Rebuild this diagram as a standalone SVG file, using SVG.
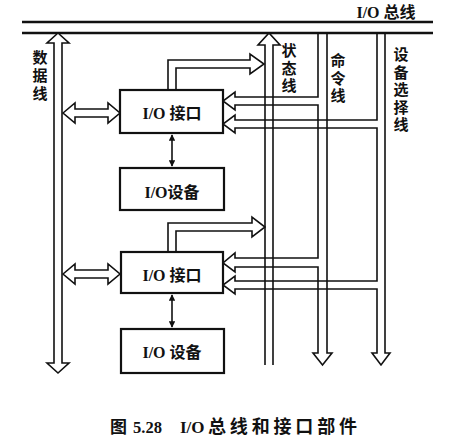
<svg xmlns="http://www.w3.org/2000/svg" width="452" height="443" viewBox="0 0 452 443">
<style>
.ln{fill:none;stroke:#111;stroke-width:1.6;stroke-linejoin:miter}
.hd{fill:#fff;stroke:#111;stroke-width:1.6;stroke-linejoin:miter}
.box{fill:#fff;stroke:#111;stroke-width:2.2}
.bus{stroke:#111;stroke-width:2.4}
.t{font-family:"Liberation Serif","Noto Sans CJK SC",serif;font-weight:bold;font-size:16px;fill:#111;text-anchor:middle}
.c{font-family:"Liberation Sans","Noto Sans CJK SC",sans-serif;font-weight:bold;font-size:15px;fill:#111;text-anchor:middle}
.cap{font-family:"Liberation Serif","Noto Sans CJK SC",serif;font-weight:bold;font-size:17px;fill:#111}
.sm{stroke:#111;stroke-width:1.6}
</style>
<defs>
<marker id="ah" viewBox="0 0 10 10" refX="9" refY="5" markerWidth="4" markerHeight="4" orient="auto-start-reverse" markerUnits="strokeWidth">
<path d="M0,0 L10,5 L0,10 Z" fill="#111"/>
</marker>
</defs>
<g id="bus">
<line class="bus" x1="22" y1="22" x2="433" y2="22"/>
<line class="bus" x1="22" y1="33" x2="433" y2="33"/>
<text class="t" x="386" y="18">I/O 总线</text>
</g>
<g id="connectors">
<path class="hd" d="M54,43 L54,363 L47,363 L58,373 L69,363 L62,363 L62,43 L69,43 L58,33 L47,43 Z"/>
<path class="ln" d="M265,365 L265,45 L258,45 L269,33 L280,45 L273,45 L273,365"/>
<path class="ln" d="M318,33 L318,97 L235,97 L235,92 L223,101 L235,110 L235,105 L318,105 L318,258 L235,258 L235,253 L223,263 L235,272 L235,267 L318,267 L318,353 L313,353 L322.5,365 L332,353 L327,353 L327,33"/>
<path class="ln" d="M377,33 L377,120 L235,120 L235,115 L223,124 L235,133 L235,128 L377,128 L377,281 L235,281 L235,276 L223,285 L235,294 L235,289 L377,289 L377,353 L372,353 L381,365 L390,353 L385,353 L385,33"/>
<path class="hd" d="M168,90 L168,60 L250,60 L250,54 L264,64 L250,74 L250,68 L176,68 L176,90"/>
<path class="hd" d="M168,252 L168,223 L252,223 L252,217 L265,227 L252,237 L252,231 L176,231 L176,252"/>
<path class="hd" d="M63,113 L75,103 L75,109 L108,109 L108,103 L120,113 L108,123 L108,117 L75,117 L75,123 Z"/>
<path class="hd" d="M63,274 L75,264 L75,270 L108,270 L108,264 L120,274 L108,284 L108,278 L75,278 L75,284 Z"/>
<line class="sm" x1="172" y1="135" x2="172" y2="166" marker-start="url(#ah)" marker-end="url(#ah)"/>
<line class="sm" x1="172" y1="295" x2="172" y2="327" marker-start="url(#ah)" marker-end="url(#ah)"/>
</g>
<g id="if1">
<rect class="box" x="120" y="90" width="103" height="43"/>
<text class="t" x="172" y="119">I/O 接口</text>
</g>
<g id="dev1">
<rect class="box" x="120" y="168" width="104" height="42"/>
<text class="t" x="172" y="198">I/O设备</text>
</g>
<g id="if2">
<rect class="box" x="121" y="252" width="102" height="41"/>
<text class="t" x="172" y="281">I/O 接口</text>
</g>
<g id="dev2">
<rect class="box" x="121" y="329" width="103" height="44"/>
<text class="t" x="172" y="358">I/O 设备</text>
</g>
<g id="labels">
<text class="c"><tspan x="40" y="63">数</tspan><tspan x="40" y="81">据</tspan><tspan x="40" y="99">线</tspan></text>
<text class="c"><tspan x="289" y="56">状</tspan><tspan x="289" y="73.5">态</tspan><tspan x="289" y="91">线</tspan></text>
<text class="c"><tspan x="338" y="66">命</tspan><tspan x="338" y="83.5">令</tspan><tspan x="338" y="101">线</tspan></text>
<text class="c"><tspan x="401" y="60">设</tspan><tspan x="401" y="77.5">备</tspan><tspan x="401" y="95">选</tspan><tspan x="401" y="112.5">择</tspan><tspan x="401" y="130">线</tspan></text>
</g>
<g id="caption">
<text class="cap" x="110" y="433">图</text>
<text class="cap" x="133" y="433" textLength="29" lengthAdjust="spacingAndGlyphs">5.28</text>
<text class="cap" x="180" y="433">I/O</text>
<text class="cap" x="208" y="433" textLength="149" lengthAdjust="spacing" style="font-size:18px">总线和接口部件</text>
</g>
</svg>
